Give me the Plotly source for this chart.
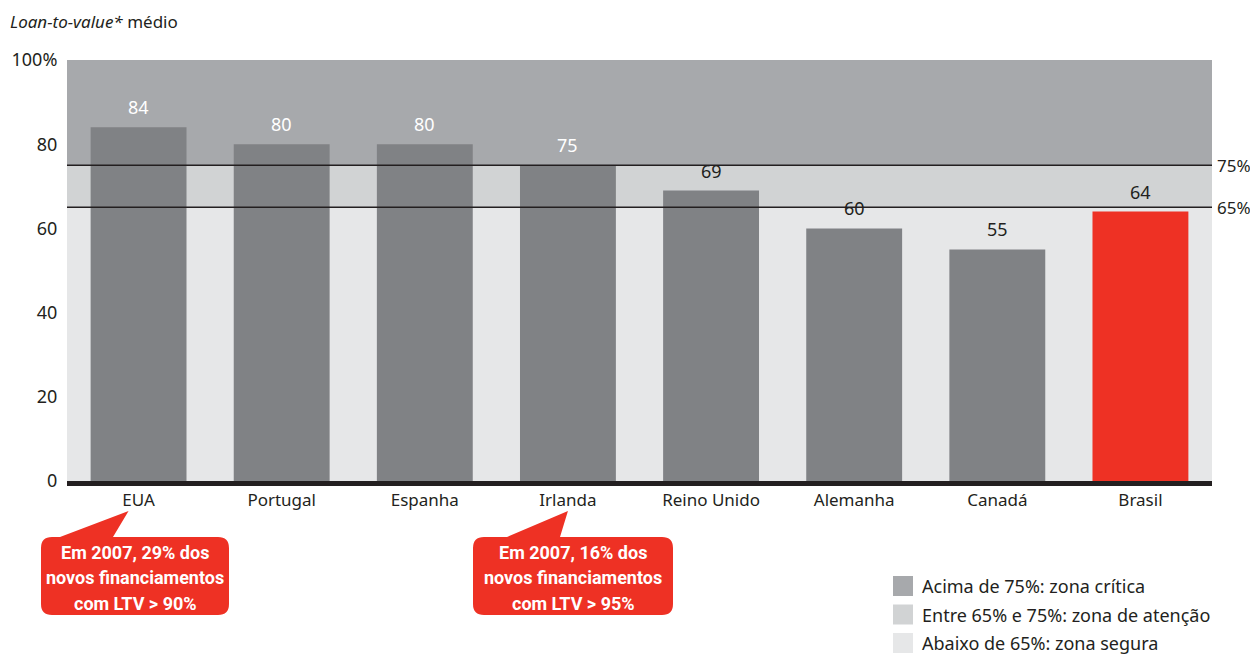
import plotly.graph_objects as go

categories = ["EUA", "Portugal", "Espanha", "Irlanda", "Reino Unido", "Alemanha", "Canadá", "Brasil"]
ltv_values = [84, 80, 80, 75, 69, 60, 55, 64]
bar_colors = ["#808285"] * 7 + ["#ee3124"]
label_colors = ["#ffffff", "#ffffff", "#ffffff", "#ffffff", "#231f20", "#231f20", "#231f20", "#231f20"]
y_ticks = [0, 20, 40, 60, 80, 100]
y_tick_text = ["0", "20", "40", "60", "80", "100%"]
zone_bounds = [(0, 65, "#e6e7e8"), (65, 75, "#d1d3d4"), (75, 100, "#a7a9ac")]
threshold_lines = [75, 65]
legend_items = [("Acima de 75%: zona crítica", "#a7a9ac"),
                ("Entre 65% e 75%: zona de atenção", "#d1d3d4"),
                ("Abaixo de 65%: zona segura", "#e6e7e8")]
callouts = [
    ("EUA", ["Em 2007, 29% dos", "novos financiamentos", "com LTV > 90%"]),
    ("Irlanda", ["Em 2007, 16% dos", "novos financiamentos", "com LTV > 95%"]),
]
# bubble geometry (window pixels): left, right, tip x-offset from category centre, pointer base
bubble_geom = [(41, 229, -10, 60, 113), (473, 673, 0, 507, 560)]

# page body has an 8px margin: figure starts at (8, 8) in the window
OFF = 8
W, H = 1258 - OFF, 654 - OFF
ML, MR, MT, MB = 67 - OFF, 46, 60 - OFF, 173
PW, PH = W - ML - MR, H - MT - MB
FONT = "Noto Sans"
TXT = "#231f20"


def px2x(px):
    # px in window coordinates
    return (px - OFF - ML) / PW


def py2y(py):
    return (H - MB - (py - OFF)) / PH


fig = go.Figure()
fig.add_trace(go.Bar(x=categories, y=ltv_values, marker=dict(color=bar_colors, line=dict(width=0)),
                     hoverinfo="x+y", showlegend=False))

shapes = []
for lo, hi, col in zone_bounds:
    shapes.append(dict(type="rect", xref="paper", yref="y", x0=0, x1=1, y0=lo, y1=hi,
                       fillcolor=col, line=dict(width=0), layer="below"))
for v in threshold_lines:
    shapes.append(dict(type="line", xref="paper", yref="y", x0=0, x1=1, y0=v, y1=v,
                       line=dict(color=TXT, width=1.5), layer="above"))

annotations = []
for v in threshold_lines:
    annotations.append(dict(xref="paper", yref="y", x=px2x(1215), y=v, text=f"{v}%", showarrow=False,
                            xanchor="left", yanchor="middle", font=dict(family=FONT, size=17, color=TXT)))
for c, v, lc in zip(categories, ltv_values, label_colors):
    annotations.append(dict(x=c, y=v, text=str(v), showarrow=False, yanchor="bottom", yshift=6,
                            font=dict(family=FONT, size=18, color=lc)))

annotations.append(dict(xref="paper", yref="paper", x=px2x(8), y=py2y(22),
                        text="<i>Loan-to-value*</i> médio", showarrow=False, xanchor="left",
                        yanchor="middle", font=dict(family=FONT, size=17, color=TXT)))

# callouts (speech bubbles)
step = PW / len(categories)
r = 11
for (cat, lines), (x0, x1, tipdx, b0, b1) in zip(callouts, bubble_geom):
    i = categories.index(cat)
    cx = OFF + ML + step * (i + 0.5)
    tip = (cx + tipdx, 511)
    y0, y1 = 537, 615

    def P(x, y):
        return f"{px2x(x):.5f},{py2y(y):.5f}"
    path = (f"M {P(x0 + r, y0)} L {P(b0, y0)} L {P(*tip)} L {P(b1, y0)} L {P(x1 - r, y0)} "
            f"Q {P(x1, y0)} {P(x1, y0 + r)} L {P(x1, y1 - r)} Q {P(x1, y1)} {P(x1 - r, y1)} "
            f"L {P(x0 + r, y1)} Q {P(x0, y1)} {P(x0, y1 - r)} L {P(x0, y0 + r)} Q {P(x0, y0)} {P(x0 + r, y0)} Z")
    shapes.append(dict(type="path", xref="paper", yref="paper", path=path,
                       fillcolor="#ee3124", line=dict(width=0), layer="above"))
    for k, line in enumerate(lines):
        annotations.append(dict(xref="paper", yref="paper", x=px2x((x0 + x1) / 2), y=py2y(552 + k * 25.5),
                                text=f"<b>{line}</b>", showarrow=False, xanchor="center", yanchor="middle",
                                align="center", font=dict(family="Roboto", size=18, color="#ffffff")))

# legend built from shapes
for k, (lab, col) in enumerate(legend_items):
    cy = 586 + k * 28.5
    shapes.append(dict(type="rect", xref="paper", yref="paper", x0=px2x(893), x1=px2x(913),
                       y0=py2y(cy - 10), y1=py2y(cy + 10), fillcolor=col, line=dict(width=0)))
    annotations.append(dict(xref="paper", yref="paper", x=px2x(920), y=py2y(cy), text=lab,
                            showarrow=False, xanchor="left", yanchor="middle",
                            font=dict(family=FONT, size=18, color=TXT)))

fig.update_layout(
    width=W, height=H,
    margin=dict(l=ML, r=MR, t=MT, b=MB, pad=0, autoexpand=False),
    paper_bgcolor="#ffffff", plot_bgcolor="rgba(0,0,0,0)",
    bargap=0.33,
    shapes=shapes, annotations=annotations,
    font=dict(family=FONT, size=17, color=TXT),
    xaxis=dict(showgrid=False, showline=True, linecolor=TXT, linewidth=5, ticks="", automargin=False,
               tickfont=dict(family=FONT, size=17, color=TXT), fixedrange=True),
    yaxis=dict(range=[0, 100], tickvals=y_ticks, ticktext=y_tick_text, showgrid=False, automargin=False,
               zeroline=False, showline=False, ticks="outside", ticklen=5, tickcolor="rgba(0,0,0,0)",
               tickfont=dict(family=FONT, size=18, color=TXT), fixedrange=True),
)

fig.write_html("out.html")
